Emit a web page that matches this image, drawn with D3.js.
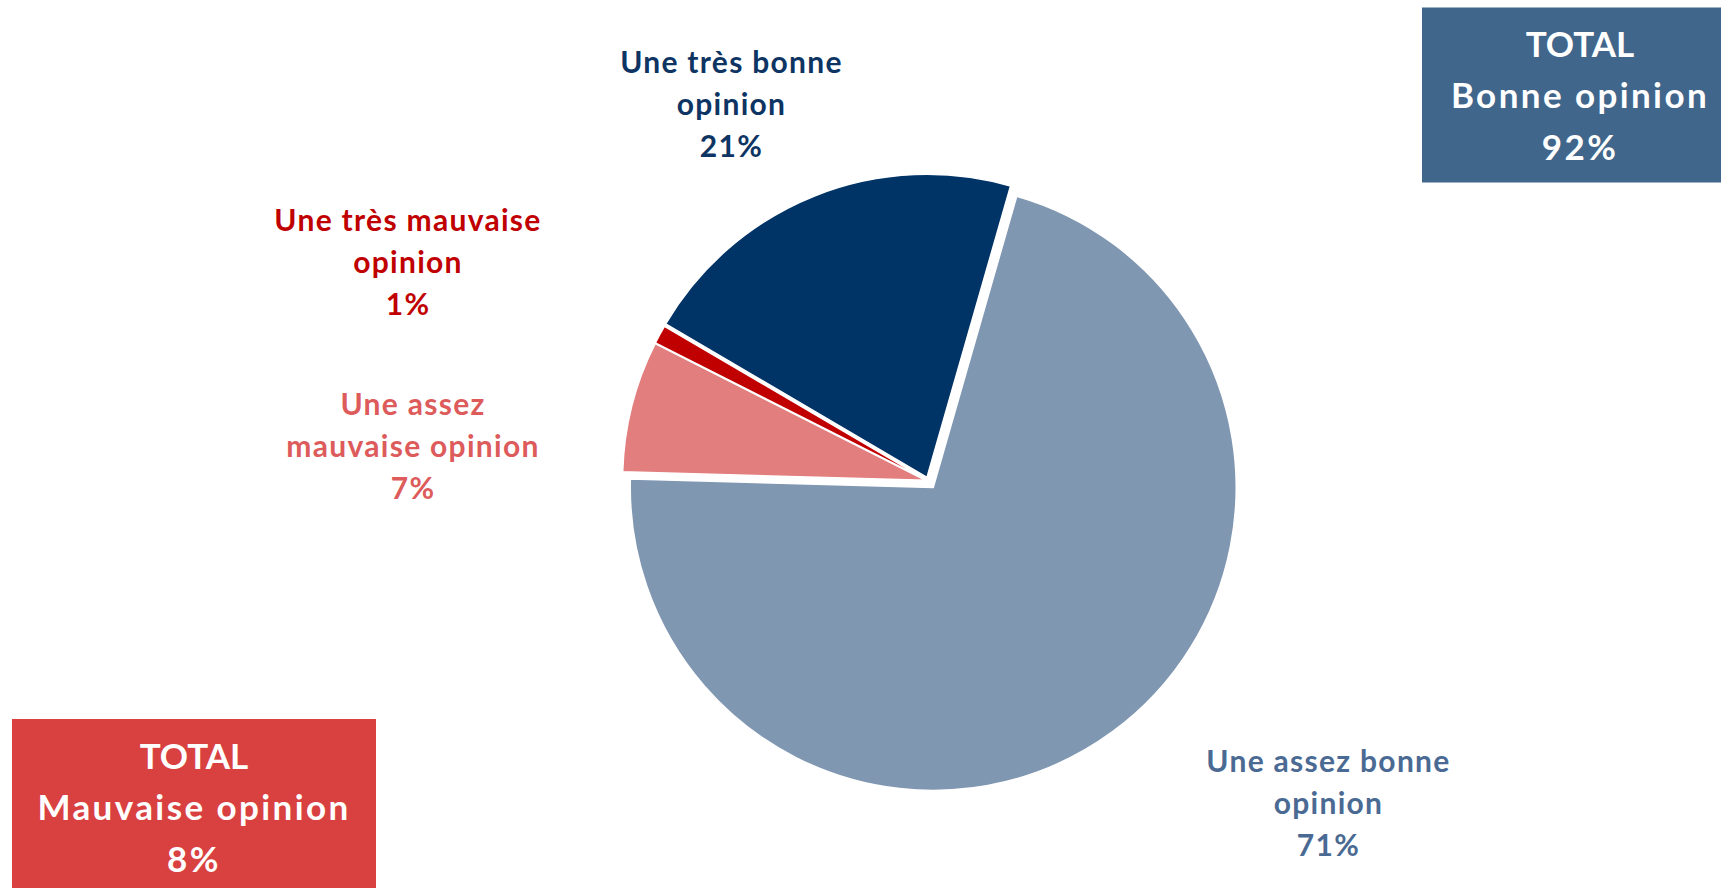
<!DOCTYPE html>
<html lang="fr">
<head>
<meta charset="utf-8">
<script src="https://cdn.jsdelivr.net/npm/d3@7"></script>
<style>
  html, body { margin: 0; padding: 0; background: #ffffff; }
  svg { display: block; font-family: Lato, "Open Sans", sans-serif; font-weight: 700; }
</style>
</head>
<body>
<svg id="chart" width="1721" height="888"></svg>
<script>
// Opinion categories, in pie order (clockwise)
const categories = [
  "Une très bonne opinion",
  "Une assez bonne opinion",
  "Une assez mauvaise opinion",
  "Une très mauvaise opinion"
];
// Share of answers, in percent
const values = [21, 71, 7, 1];
// Label text broken into lines
const labelLines = [
  ["Une très bonne", "opinion"],
  ["Une assez bonne", "opinion"],
  ["Une assez", "mauvaise opinion"],
  ["Une très mauvaise", "opinion"]
];
// Which categories add up into each total box
const totalTitles = ["Bonne opinion", "Mauvaise opinion"];
const totalMembers = [[0, 1], [2, 3]];

// ---- styles and layout ----
const sliceColors = ["#003366", "#8097B2", "#E27E7D", "#C00000"];
const labelColors = ["#0D3462", "#4A6A93", "#DD5B5B", "#C00000"];
const explode = [4, 8, 3, 3];                 // pull-out of each slice, px
const labelAnchor = [[731.5, 73], [1328.5, 771.5], [413, 414.5], [408, 231]];
const boxStyle = [
  { fill: "#41668C", x: 1422, y: 7.5, w: 330, h: 175, cx: 1580, base: 56.5 },
  { fill: "#D94141", x: 12, y: 719, w: 364, h: 190, cx: 194, base: 768.5 }
];
const center = [928.5, 481];
const radius = 303;
const startDeg = -59.6;

const svg = d3.select("#chart");
const data = categories.map((c, i) => ({ name: c, value: values[i], i }));

const pie = d3.pie()
  .sort(null)
  .value(d => d.value)
  .startAngle(startDeg * Math.PI / 180)
  .endAngle(startDeg * Math.PI / 180 + 2 * Math.PI);

const arc = d3.arc().innerRadius(0).outerRadius(radius);

const g = svg.append("g").attr("transform", `translate(${center[0]},${center[1]})`);

g.selectAll("path.slice")
  .data(pie(data))
  .join("path")
  .attr("class", "slice")
  .attr("d", arc)
  .attr("fill", d => sliceColors[d.data.i])
  .attr("stroke", "#ffffff")
  .attr("stroke-width", 1.5)
  .attr("stroke-linejoin", "round")
  .attr("transform", d => {
    const mid = (d.startAngle + d.endAngle) / 2;
    const off = explode[d.data.i];
    return `translate(${Math.sin(mid) * off},${-Math.cos(mid) * off})`;
  });

// Category labels: name lines followed by the percentage
const fmt = v => `${v}%`;
data.forEach(d => {
  const lines = labelLines[d.i].concat([fmt(d.value)]);
  const t = svg.append("text")
    .attr("text-anchor", "middle")
    .attr("fill", labelColors[d.i])
    .attr("font-size", 30)
    .attr("letter-spacing", 1.3);
  lines.forEach((ln, k) => {
    t.append("tspan")
      .attr("x", labelAnchor[d.i][0])
      .attr("y", labelAnchor[d.i][1] + k * 42)
      .text(ln);
  });
});

// Total boxes
totalTitles.forEach((title, b) => {
  const st = boxStyle[b];
  const sum = d3.sum(totalMembers[b], i => values[i]);
  svg.append("rect")
    .attr("x", st.x).attr("y", st.y)
    .attr("width", st.w).attr("height", st.h)
    .attr("fill", st.fill);
  const t = svg.append("text")
    .attr("text-anchor", "middle")
    .attr("fill", "#ffffff")
    .attr("font-size", 35);
  ["TOTAL", title, fmt(sum)].forEach((ln, k) => {
    t.append("tspan")
      .attr("x", st.cx)
      .attr("y", st.base + k * 51.5)
      .attr("letter-spacing", k === 0 ? 0 : 2.4)
      .text(ln);
  });
});
</script>
</body>
</html>
